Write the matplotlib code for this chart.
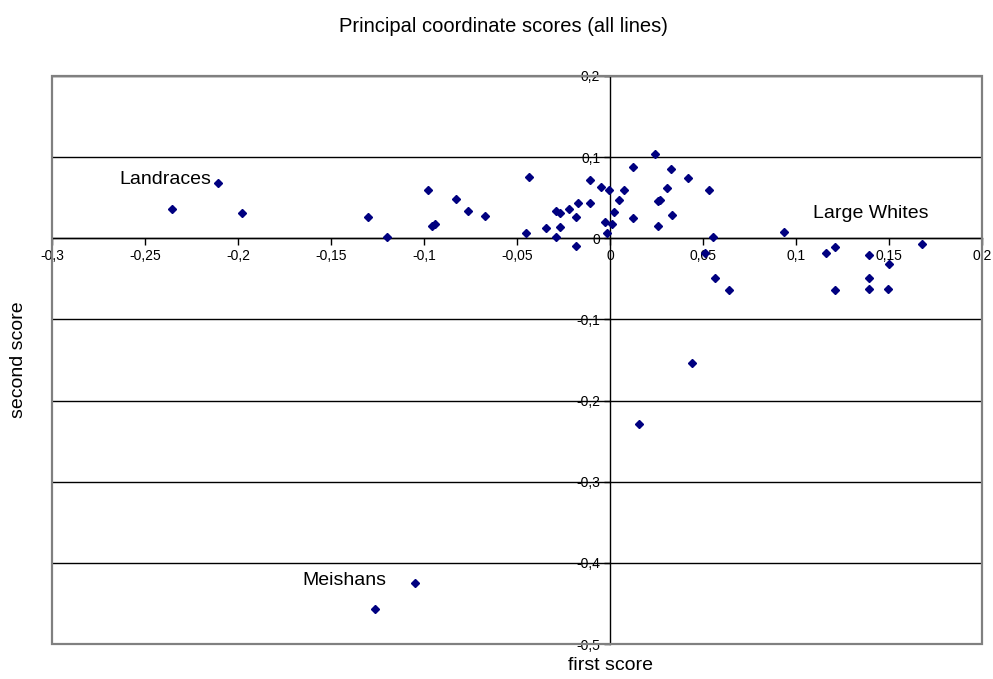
import numpy as np
import matplotlib
matplotlib.use('Agg')
import matplotlib.pyplot as plt
from matplotlib.ticker import MultipleLocator, FuncFormatter
from matplotlib.patches import Rectangle

plt.rcParams['font.family'] = ['Liberation Sans', 'DejaVu Sans']

# Principal coordinate scores
first_score = [
    -0.2357, -0.2107, -0.198, -0.130, -0.120, -0.0976, -0.0957, -0.0939,
    -0.0828, -0.0766, -0.0672, -0.0454, -0.0438, -0.0343, -0.0293, -0.0288,
    -0.027, -0.0268, -0.0222, -0.0184, -0.0182, -0.0173, -0.0107, -0.0106,
    -0.0047, -0.0027, -0.0014, -0.0005, 0.0012, 0.0023, 0.0048, 0.0075,
    0.0122, 0.0122, 0.0243, 0.0256, 0.0258, 0.0267, 0.0306, 0.0327,
    0.0331, 0.0418, 0.053, 0.0513, 0.0556, 0.0563, 0.064, 0.0937,
    0.116, 0.121, 0.121, 0.139, 0.1395, 0.139, 0.150, 0.1495,
    0.168, 0.0442, 0.0156, -0.1046, -0.1262,
]
second_score = [
    0.036, 0.0685, 0.031, 0.026, 0.002, 0.0595, 0.0155, 0.0176,
    0.049, 0.034, 0.028, 0.0065, 0.076, 0.0123, 0.0016, 0.034,
    0.0315, 0.0143, 0.036, 0.0266, -0.0099, 0.043, 0.072, 0.044,
    0.0628, 0.0197, 0.0065, 0.0595, 0.0176, 0.0324, 0.0468, 0.0595,
    0.088, 0.0246, 0.1034, 0.0151, 0.046, 0.0468, 0.0623, 0.0853,
    0.0287, 0.0746, 0.0595, -0.0177, 0.0012, -0.0485, -0.0637, 0.0078,
    -0.0177, -0.0103, -0.064, -0.020, -0.0485, -0.0624, -0.0317, -0.062,
    -0.0066, -0.154, -0.2287, -0.4249, -0.457,
]

group_labels = ['Landraces', 'Large Whites', 'Meishans']
label_pos = [(-0.264, 0.0727), (0.1094, 0.0308), (-0.1652, -0.4217)]

fig = plt.figure(figsize=(9.93, 6.79), dpi=100)
ax = fig.add_axes([52 / 993, 1 - 644 / 679, 930 / 993, 568 / 679])

ax.set_xlim(-0.3, 0.2)
ax.set_ylim(-0.5, 0.2)

# horizontal gridlines only
ax.yaxis.set_major_locator(MultipleLocator(0.1))
ax.xaxis.set_major_locator(MultipleLocator(0.05))
ax.yaxis.grid(True, color='black', linewidth=1)
ax.set_axisbelow(True)

# axes cross at zero
ax.spines['left'].set_position(('data', 0))
ax.spines['bottom'].set_position(('data', 0))
ax.spines['top'].set_visible(False)
ax.spines['right'].set_visible(False)
for s in ['left', 'bottom']:
    ax.spines[s].set_color('black')
    ax.spines[s].set_linewidth(1)

# plot area border
ax.add_patch(Rectangle((0, 0), 1, 1, transform=ax.transAxes, fill=False,
                       edgecolor='#808080', linewidth=1.6, zorder=5, clip_on=False))


def comma_fmt(v, pos):
    return ('%g' % round(v, 2)).replace('.', ',')


ax.xaxis.set_major_formatter(FuncFormatter(comma_fmt))
ax.yaxis.set_major_formatter(FuncFormatter(comma_fmt))
ax.tick_params(axis='x', direction='out', length=5, width=1, labelsize=10, pad=3)
ax.tick_params(axis='y', direction='out', length=4, width=1, labelsize=10, pad=3)

ax.plot(first_score, second_score, linestyle='none', marker='D', markersize=4.4,
        color='#000080', zorder=6, clip_on=False)

for lbl, (lx, ly) in zip(group_labels, label_pos):
    ax.text(lx, ly, lbl, fontsize=14, ha='left', va='center', color='black')

fig.text(503 / 993, 1 - 26 / 679, 'Principal coordinate scores (all lines)',
         ha='center', va='center', fontsize=14.5)
fig.text(610 / 993, 1 - 665 / 679, 'first score', ha='center', va='center', fontsize=14)
fig.text(19 / 993, 1 - 360 / 679, 'second score', ha='center', va='center',
         rotation=90, fontsize=14)

fig.savefig('out.png', dpi=100)
